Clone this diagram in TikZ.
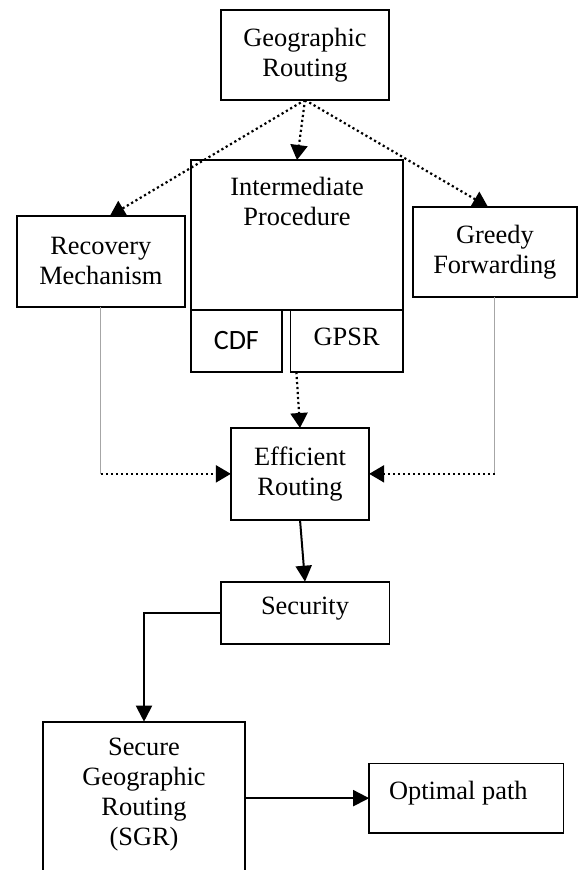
\documentclass[tikz,border=0pt]{standalone}
\usepackage{fontspec}
\setmainfont{Liberation Serif}
\newfontfamily\cdffont{Carlito}
\usetikzlibrary{positioning,arrows.meta}

\begin{document}
\begin{tikzpicture}[
font=\fontsize{26.4}{30}\selectfont,
box/.style={rectangle, draw=black, line width=1.6pt, inner sep=0pt, outer sep=0pt, align=center},
dotarrow/.style={line width=2.2pt, dash pattern=on 2.2pt off 2.8pt, -{Triangle[length=15pt,width=17pt]}},
flow/.style={line width=2pt, -{Triangle[length=16pt,width=16pt]}},
guide/.style={draw=gray!70, line width=0.8pt}
]
\useasboundingbox (0,0) rectangle (579pt,-870pt);
%Nodes
\node[box, minimum width=168pt, minimum height=90pt]        (geo)    at (305pt,-55pt)       {Geographic\\Routing};
\node[box, minimum width=212pt, minimum height=150pt]       (inter)  [below=60pt of geo, xshift=-8pt,
      label={[anchor=north, yshift=-17pt, inner sep=0pt, align=center]north:Intermediate\\Procedure}] {};
\node[box, minimum width=90.7pt, minimum height=62pt, anchor=north west,
      font=\cdffont\fontsize{28}{30}\selectfont]            (cdf)    at (inter.south west)  {CDF};
\node[box, minimum width=112.6pt, minimum height=62pt, anchor=north east, text depth=9pt] (gpsr) at (inter.south east) {GPSR};
\node[box, minimum width=168.3pt, minimum height=90.7pt]    (rec)    [below left=56pt and 6pt of inter.north west]   {Recovery\\Mechanism};
\node[box, minimum width=163.7pt, minimum height=90pt]      (greedy) [below right=46.7pt and 10pt of inter.north east] {Greedy\\Forwarding};
\node[box, minimum width=138.3pt, minimum height=91.7pt]    (eff)    [below=118pt of inter, xshift=3pt]  {Efficient\\Routing};
\node[box, minimum width=168.6pt, minimum height=62pt, text depth=14pt] (sec) [below=62pt of eff, xshift=5pt] {Security};
\node[box, minimum width=202.3pt, minimum height=170pt]     (sgr)    [below=78pt of sec, xshift=-161pt,
      label={[anchor=north, yshift=-16.5pt, inner sep=0pt, align=center]north:Secure\\Geographic\\Routing\\(SGR)}] {};
\node[box, minimum width=194.3pt, minimum height=69.7pt, text depth=16pt] (opt) [below right=41.6pt and 124pt of sgr.north east] {Optimal path\hspace*{16pt}};
\coordinate (recbend) at (rec.south |- eff.west);
\coordinate (grbend)  at (greedy.south |- eff.west);
%Lines
\draw[dotarrow] (geo.south) -- ([xshift=9pt]rec.north);
\draw[dotarrow] (geo.south) -- (inter.north);
\draw[dotarrow] (geo.south) -- ([xshift=-7pt]greedy.north);
\draw[dotarrow] ([xshift=6pt]gpsr.south west) -- (eff.north);
\draw[guide]    (rec.south) -- (recbend);
\draw[dotarrow] (recbend) -- (eff.west);
\draw[guide]    (greedy.south) -- (grbend);
\draw[dotarrow] (grbend) -- (eff.east);
\draw[flow]     (eff.south) -- (sec.north);
\draw[flow]     (sec.west) -| (sgr.north);
\draw[flow]     (opt.west -| sgr.east) -- (opt.west);
\end{tikzpicture}
\end{document}
